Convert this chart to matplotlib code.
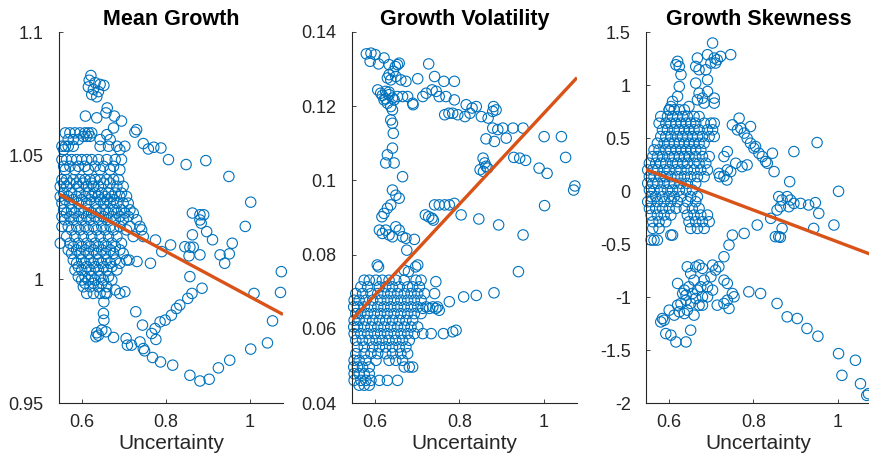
import matplotlib
matplotlib.use("Agg")
import matplotlib.pyplot as plt

plt.rcParams['font.family'] = ['Liberation Sans', 'DejaVu Sans']

# ---------------- data ----------------
titles = ["Mean Growth", "Growth Volatility", "Growth Skewness"]
x_label = "Uncertainty"
x_ticks = [0.6, 0.8, 1.0]
x_tick_labels = ["0.6", "0.8", "1"]
x_limits = [0.545, 1.079]

mean_ticks = [0.95, 1.0, 1.05, 1.1]
mean_tick_labels = ["0.95", "1", "1.05", "1.1"]
vol_ticks = [0.04, 0.06, 0.08, 0.10, 0.12, 0.14]
vol_tick_labels = ["0.04", "0.06", "0.08", "0.1", "0.12", "0.14"]
skew_ticks = [-2, -1.5, -1, -0.5, 0, 0.5, 1, 1.5]
skew_tick_labels = ["-2", "-1.5", "-1", "-0.5", "0", "0.5", "1", "1.5"]

# fitted lines (slope, intercept)
mean_fit = [-0.0912, 1.0842]
vol_fit = [0.1222, -0.00415]
skew_fit = [-1.50, 1.02]

# --- Mean growth: scattered points
mean_x = [.621, .617, .631, .643, .652, .615, .627, .639, .623, .635,
          .660, .657, .677, .608, .635, .694, .675, .659, .730, .726,
          .746, .758, .771, .788, .806, .848, .895, .950, 1.002, .989,
          .958, .951, .940, .929, .897, .911, .863, .881, .890, .881,
          .884, .863, .845, .857, .865, .855, .881, .857, .886, .862,
          .852, .833, .825, .813, .798, .786, .774, .766, .776, .744,
          .728, .702, .679, .811, .790, .775, .763, .731, .712, 1.075,
          1.073, 1.010, 1.054, 1.042, 1.002, .952, .925, .903, .881, .857,
          .816, .787, .768, .749, .746, .738, .718, .705, .708, .675,
          .657, .647, .635, .639, .633, .655, .652, .651, .652]
mean_y = [1.0824, 1.0805, 1.0795, 1.0788, 1.0784, 1.0778, 1.0768, 1.0759, 1.0747, 1.0738,
          1.0693, 1.0673, 1.066, 1.066, 1.0653, 1.064, 1.0612, 1.0585, 1.0605, 1.0595,
          1.0549, 1.0527, 1.0534, 1.0531, 1.0484, 1.0464, 1.048, 1.0416, 1.0312, 1.0214,
          1.0146, 1.0103, 1.0065, 1.0099, 1.0193, 1.016, 1.0268, 1.0261, 1.0261, 1.024,
          1.0227, 1.018, 1.0132, 1.013, 1.013, 1.0095, 1.0099, 1.0011, .9964, .9943,
          .9923, .9896, .9882, .9855, .9835, .9828, .9801, .9781, .9757, .9815,
          .9869, .995, .9957, 1.0139, 1.0112, 1.0159, 1.0065, 1.0072, 1.0078, 1.0031,
          .9947, .9943, .9832, .9743, .9718, .9673, .9642, .9596, .9589, .9612,
          .9653, .9666, .9684, .9711, .972, .9747, .9734, .9761, .9734, .9765,
          .9788, .9795, .9784, .9774, .9768, .9943, .9909, .9862, .9835]

# --- Mean growth: dense cluster, row by row (row level, x values in row)
mean_rows_y = [1.0592, 1.0578, 1.0565, 1.0538, 1.0524, 1.0484, 1.0457, 1.0443,
               1.0403, 1.0389, 1.0376, 1.0349, 1.0335, 1.0322, 1.0308, 1.0281,
               1.0268, 1.0254, 1.0241, 1.0214, 1.02, 1.0173, 1.0146, 1.0132,
               1.0119, 1.0105, 1.0078, 1.0065, 1.0051, 1.0038, 1.0011, .9997,
               .9984, .997, .9943]
mean_rows_x = [
    [.560, .571, .583, .595, .607, .615, .623],
    [.603, .611, .619],
    [.567, .579, .591, .643, .667],
    [.552, .560, .567, .579, .643, .663, .683, .702],
    [.556, .690],
    [.552, .563, .575, .587, .599, .611, .623, .639, .659, .679, .694],
    [.556, .571, .591, .607, .631, .651, .675],
    [.560, .583, .615, .643, .667, .690],
    [.552, .563, .579, .595, .607, .619, .631, .643, .659, .675, .687],
    [.556, .571, .587, .603, .623, .651, .667],
    [.548, .563, .591, .611, .627, .639, .683, .698],
    [.556, .575, .595, .615, .631, .647, .663, .679, .694],
    [.548, .567, .587, .607, .623, .639, .655, .671, .690, .706],
    [.560, .579, .599, .619, .643, .659, .675],
    [.552, .571, .591, .611, .631, .651, .667, .683, .698, .710],
    [.556, .575, .595, .615, .635, .655, .675, .694, .714],
    [.563, .583, .603, .623, .643, .663, .683, .702, .722],
    [.552, .571, .591, .611, .631, .651, .671, .690, .710],
    [.559, .579, .599, .619, .639, .659, .679, .698, .730],
    [.552, .567, .587, .607, .627, .647, .667, .690, .714, .738],
    [.575, .595, .615, .635, .655, .675, .706, .742],
    [.563, .583, .603, .623, .643, .663, .683, .722, .746],
    [.548, .571, .591, .611, .631, .651, .671, .694],
    [.579, .599, .619, .639, .659, .679],
    [.567, .587, .607, .627, .647, .667, .690],
    [.575, .595, .615, .635, .655, .675, .698],
    [.579, .599, .619, .639, .659, .679, .706],
    [.587, .607, .627, .647, .667, .690],
    [.591, .611, .631, .651, .671],
    [.583, .599, .619, .639, .659, .683],
    [.591, .607, .623, .643, .663],
    [.599, .615, .631, .651, .671],
    [.607, .627, .647],
    [.603, .619, .639, .659],
    [.611, .627, .643, .659, .690],
]

# --- Growth volatility: scattered points
vol_x = [.579, .590, .600, .588, .608, .621, .633, .648, .653, .657,
         .633, .643, .629, .637, .649, .661, .673, .701, .727, .741,
         .763, .788, .606, .613, .625, .633, .641, .621, .629, .637,
         .645, .653, .665, .677, .689, .690, .713, .721, .735, .745,
         .752, .768, .788, .816, .830, .840, .852, .868, .881, .887,
         .879, .765, .775, .784, .796, .813, .825, .641, .637, .641,
         .643, .641, .629, .625, .645, .665, .879, .891, .903, .927,
         .951, .863, .883, .911, .929, .943, .957, .989, 1.008, 1.001,
         1.042, 1.052, 1.074, 1.071, 1.002, .951, .940, .856, .860, .849,
         .857, .867, .863, .741, .752, .765, .776, .788, .804, .846,
         .893, .719, .727, .735, .738, .641, .649, .657, .637, .629,
         .621, .616, .610, .617, .625, .633, .641, .649, .657, .665,
         .673, .693, .675, .696, .701, .669, .679, .605, .608, .744,
         .741, .776, .810, .840, .882, .713, .733, .762, .784, .792,
         .744, .752, .729, .713, .617, .625, .633]
vol_y = [.1341, .1343, .1339, .1321, .1314, .1330, .1312, .1307, .1312, .1316,
         .1285, .1294, .1276, .1271, .1280, .1271, .1267, .1274, .1314, .1280,
         .1267, .1267, .1244, .1235, .1240, .1231, .1222, .1217, .1208, .1199,
         .1217, .1226, .1226, .1226, .1208, .1204, .1226, .1235, .1244, .1240,
         .1226, .1226, .1217, .1204, .1195, .1199, .1172, .1168, .1199, .1190,
         .1186, .1177, .1181, .1181, .1177, .1172, .1181, .1190, .1163, .1154,
         .1127, .1087, .1069, .1047, .1047, .1010, .1141, .1137, .1141, .1141,
         .1141, .1112, .1105, .1114, .1062, .1060, .1054, .1033, .1019, .1118,
         .1118, .1062, .0985, .0974, .0932, .0853, .0754, .1060, .1047, .1029,
         .1024, .1033, .1038, .0934, .0934, .0934, .0934, .0938, .0907, .0896,
         .0880, .0907, .0902, .0898, .0893, .0974, .0960, .0952, .0934, .0925,
         .0911, .0902, .0866, .0857, .0866, .0853, .0848, .0875, .0866, .0848,
         .0844, .0841, .0812, .0767, .0772, .0758, .0754, .0772, .0767, .0727,
         .0695, .0673, .0686, .0690, .0697, .0587, .0587, .0587, .0592, .0596,
         .0655, .0650, .0655, .0655, .1229, .1220, .1238]

vol_rows_y = [.0731, .0713, .0695, .0677, .0659, .0641, .0623, .0605, .0587,
              .0569, .0551, .0533, .0515, .0497, .0479, .0461, .0448]
vol_rows_x = [
    [.574, .586, .602, .617, .633, .649, .669, .697, .709],
    [.566, .582, .610, .625, .641, .657, .677, .689, .705],
    [.554, .570, .590, .606, .621, .637, .653, .669, .685, .701, .717],
    [.550, .562, .578, .594, .613, .629, .645, .661, .677, .693, .709],
    [.549, .558, .574, .590, .606, .621, .637, .653, .669, .685, .701, .721, .737, .748],
    [.554, .566, .582, .598, .613, .629, .645, .661, .677, .693, .709],
    [.550, .562, .578, .594, .610, .625, .641, .657, .673, .689],
    [.549, .558, .574, .590, .606, .621, .637, .653, .669, .685, .701],
    [.550, .566, .582, .598, .613, .629, .645, .661, .677, .693],
    [.554, .570, .586, .602, .617, .633, .649, .665, .681],
    [.558, .574, .594, .610, .625, .641, .657, .673],
    [.554, .574, .590, .606, .625, .641, .661, .677],
    [.550, .562, .578, .602, .633, .649, .665],
    [.549, .558, .570, .586, .669, .681, .689],
    [.550, .562, .574, .586],
    [.550, .566, .578, .590, .610, .629, .653],
    [.562, .574, .586],
]

# --- Growth skewness: scattered points
skew_x = [.703, .620, .616, .624, .667, .663, .671, .687, .691, .707,
          .714, .710, .722, .746, .699, .628, .691, .663, .624, .671,
          .691, .707, .679, .707, .683, .667, .620, .608, .604, .600,
          .647, .766, .750, .770, .793, .762, .778, .785, .793, .801,
          .805, .813, .821, .829, .845, .849, .833, .896, .951, .886,
          1.002, .738, .730, .758, .773, .785, .720, .730, .737, .718,
          .746, .738, .860, .868, .880, .888, .896, .912, .931, .947,
          .955, .864, .884, .856, .841, .868, .860, .852, .864, .809,
          .778, .991, .943, .750, .742, .730, .718, .703, .710, .730,
          .738, .750, .754, .738, .730, .742, .714, .789, .817, .856,
          .880, .904, .927, .953, 1.002, 1.042, 1.010, 1.054, 1.069, 1.073,
          .584, .580, .588, .592, .604, .616, .640, .651, .600, .612,
          .620, .624, .620, .632, .628, .640, .636, .643, .651, .663,
          .671, .679, .659, .647, .655, .667, .675, .663, .651, .671,
          .679, .691, .683, .699, .703, .643, .659, .636, .679, .640, .691]
skew_y = [1.396, 1.223, 1.191, 1.175, 1.254, 1.175, 1.144, 1.144, 1.286, 1.254,
          1.238, 1.207, 1.270, 1.286, 1.207, 1.097, 1.049, 1.018, .986, .923,
          .939, .876, .876, .829, .829, .860, .892, .845, .797, .766,
          .797, .687, .624, .593, .608, .577, .546, .498, .451, .404,
          .420, .356, .325, .278, .356, .183, .262, .372, .457, .088,
          -.003, .372, .325, .262, .230, .246, .135, .140, .104, .167,
          .183, .199, -.053, -.085, -.053, -.085, -.117, -.117, -.132, -.110,
          -.211, -.148, -.148, -.180, -.258, -.353, -.431, -.431, -.437, -.321,
          -.400, -.321, -.353, -.416, -.510, -.620, -.715, -.699, -.746, -.841,
          -.872, -.967, -.998, -1.030, -1.061, -1.108, -1.077, -.951, -.967, -1.061,
          -1.187, -1.203, -1.297, -1.370, -1.534, -1.597, -1.739, -1.818, -1.928, -1.912,
          -1.203, -1.235, -1.219, -1.345, -1.360, -1.424, -1.424, -1.313, -1.124, -1.171,
          -1.077, -1.140, -.872, -.967, -1.061, -1.030, -.935, -.715, -.778, -.715,
          -.699, -.730, -.841, -.904, -.967, -.935, -.904, -1.014, -1.061, -1.077,
          -.998, -.904, -.841, -.809, -.935, -1.124, -1.171, -1.156, -1.077, -.983, -.998]

skew_rows_y = [.766, .703, .640, .577, .514, .451, .388, .325, .262, .199, .135,
               .072, .009, -.053, -.101, -.164, -.227, -.290, -.353, -.416, -.463]
skew_rows_x = [
    [.600, .612, .624, .636],
    [.580, .596, .608, .620, .632, .643, .659, .671],
    [.576, .592, .604, .616, .628, .640, .651, .663, .683, .699, .707],
    [.584, .596, .612, .624, .636, .647, .659, .671, .691, .703],
    [.580, .592, .604, .620, .632, .643, .655, .667, .679, .695, .707],
    [.572, .588, .600, .612, .624, .636, .647, .659, .671, .683],
    [.564, .576, .592, .604, .616, .628, .640, .651, .663, .675],
    [.561, .572, .584, .600, .612, .624, .636, .647, .663, .679, .695],
    [.553, .568, .580, .592, .608, .620, .632, .643, .659, .671, .687],
    [.549, .561, .572, .588, .600, .616, .628, .643, .659, .675, .691],
    [.553, .564, .580, .592, .604, .620, .636, .651, .667, .683],
    [.549, .561, .572, .588, .600, .612, .628, .643, .663],
    [.553, .564, .580, .596, .608, .624, .640, .655],
    [.557, .568, .584, .600, .612, .628, .651, .667],
    [.549, .557, .572, .588, .604, .620, .643, .663],
    [.553, .568, .584, .600, .616, .636, .655, .671],
    [.557, .572, .588, .604, .643, .659, .675, .691],
    [.561, .576, .592, .647, .663, .679, .695],
    [.561, .576, .651, .667, .683],
    [.604, .608],
    [.557, .564, .572],
]

# ---------------- drawing ----------------
def collect(px, py, rows_x, rows_y):
    xs = list(px)
    ys = list(py)
    for yv, row in zip(rows_y, rows_x):
        for xv in row:
            xs.append(xv)
            ys.append(yv)
    return xs, ys

panels = [
    (collect(mean_x, mean_y, mean_rows_x, mean_rows_y), mean_fit,
     (0.95, 1.1), mean_ticks, mean_tick_labels),
    (collect(vol_x, vol_y, vol_rows_x, vol_rows_y), vol_fit,
     (0.04, 0.14), vol_ticks, vol_tick_labels),
    (collect(skew_x, skew_y, skew_rows_x, skew_rows_y), skew_fit,
     (-2, 1.5), skew_ticks, skew_tick_labels),
]

fig = plt.figure(figsize=(8.7, 4.61), dpi=100)
lefts = [59 / 870, 352 / 870, 646 / 870]
widths = [224 / 870, 225 / 870, 225 / 870]
bottom = 1 - 403 / 461
height = 371 / 461

axc = '#262626'
for i, ((xs, ys), fit, ylim, yt, ytl) in enumerate(panels):
    ax = fig.add_axes([lefts[i], bottom, widths[i], height])
    ax.scatter(xs, ys, s=56, facecolors='none', edgecolors='#0072BD',
               linewidths=0.8, clip_on=False, zorder=2)
    lx = [x_limits[0], x_limits[1]]
    ly = [fit[0] * v + fit[1] for v in lx]
    ax.plot(lx, ly, color='#D95319', linewidth=2.4, zorder=3,
            solid_capstyle='butt')
    ax.set_xlim(x_limits)
    ax.set_ylim(ylim)
    ax.set_xticks(x_ticks)
    ax.set_xticklabels(x_tick_labels)
    ax.set_yticks(yt)
    ax.set_yticklabels(ytl)
    for s in ['top', 'right']:
        ax.spines[s].set_visible(False)
    for s in ['left', 'bottom']:
        ax.spines[s].set_color(axc)
        ax.spines[s].set_linewidth(0.8)
    ax.tick_params(axis='both', direction='in', length=3, width=0.6,
                   color=axc, labelcolor=axc, labelsize=13)
    ax.tick_params(axis='y', pad=11)
    ax.tick_params(axis='x', pad=8)
    ax.set_title(titles[i], fontsize=15.5, fontweight='bold', pad=5,
                 color='black')
    ax.set_xlabel(x_label, fontsize=15, color=axc, labelpad=2)
    ax.patch.set_alpha(0)

fig.savefig('out.png', dpi=100)
